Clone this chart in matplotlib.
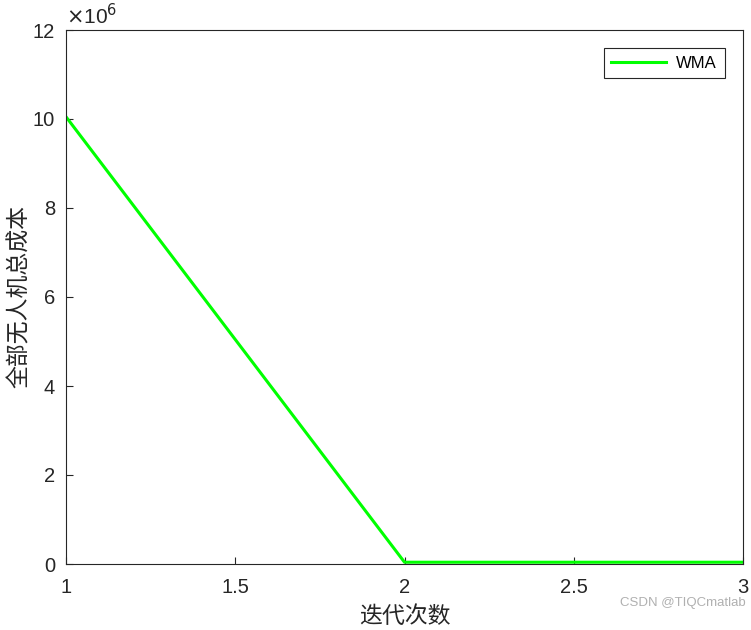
import matplotlib
matplotlib.use("Agg")
from matplotlib import pyplot as plt
from matplotlib.ticker import FuncFormatter
import numpy as np

# 数据
iterations = [1, 2, 3]
total_cost = [10.05e6, 0.04e6, 0.04e6]
series_name = "WMA"
x_ticks = [1, 1.5, 2, 2.5, 3]
y_ticks = [0, 2e6, 4e6, 6e6, 8e6, 10e6, 12e6]

plt.rcParams['font.family'] = ['Liberation Sans', 'Noto Sans CJK SC', 'DejaVu Sans']

fig = plt.figure(figsize=(7.51, 6.30), dpi=100)
ax = fig.add_axes([66 / 751, 66 / 630, 677 / 751, 534 / 630])

ax.plot(iterations, total_cost, color=(0, 1, 0), linewidth=2.2, label=series_name)

ax.set_xlim(1, 3)
ax.set_ylim(0, 12e6)
ax.set_xticks(x_ticks)
ax.set_yticks(y_ticks)
ax.xaxis.set_major_formatter(FuncFormatter(lambda v, p: f"{v:g}"))
ax.yaxis.set_major_formatter(FuncFormatter(lambda v, p: f"{v / 1e6:g}"))
ax.tick_params(direction='in', length=5, width=0.8, labelsize=14.5, colors='#262626',
               top=False, right=False)
ax.tick_params(axis='x', pad=10)
ax.tick_params(axis='y', pad=8)
for s in ax.spines.values():
    s.set_color('#262626')
    s.set_linewidth(0.8)

ax.text(0.0, 1.004, r"$\times$10$^6$", transform=ax.transAxes, fontsize=15,
        color='#262626', ha='left', va='bottom')

ax.set_xlabel("迭代次数", fontsize=16.5, family=['Noto Sans CJK SC'], color='#262626', labelpad=6)
ax.set_ylabel("全部无人机总成本", fontsize=16.5, family=['Noto Sans CJK SC'], color='#262626', labelpad=1)

leg = ax.legend(loc='upper right', fontsize=12, fancybox=False, framealpha=1,
                edgecolor='#262626', borderaxespad=1.1, handlelength=3.3,
                borderpad=0.45, handletextpad=0.6)
leg.get_frame().set_linewidth(0.8)

fig.text(0.993, 0.034, "CSDN @TIQCmatlab", fontsize=9.5, color='#b0b0b0',
         ha='right', va='bottom')

fig.savefig("out.png", dpi=100)
